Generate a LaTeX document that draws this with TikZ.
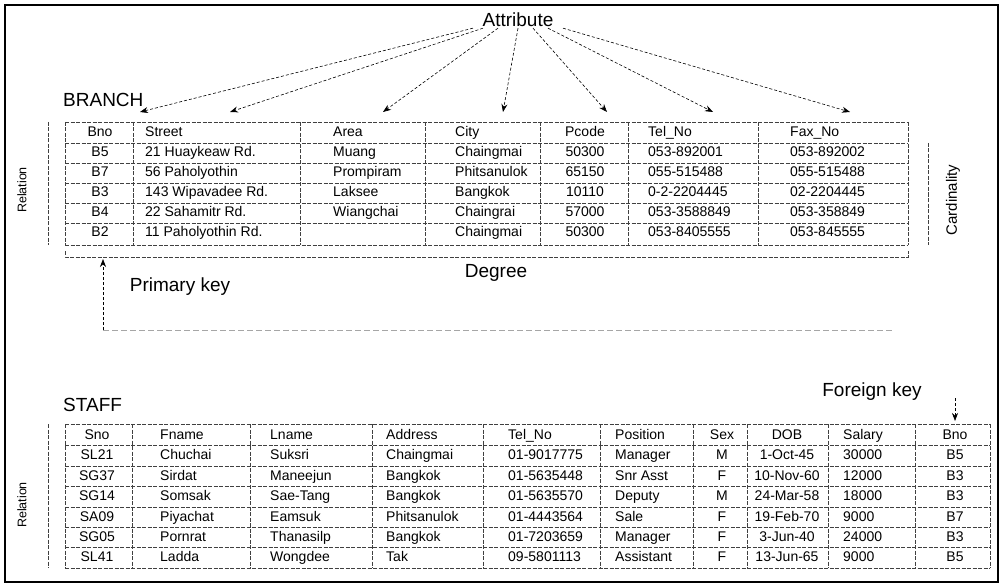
\documentclass[tikz,border=0pt]{standalone}
\usepackage{fontspec}
\setmainfont{Liberation Sans}
\usetikzlibrary{arrows.meta}

\begin{document}
\begin{tikzpicture}[x=1pt,y=-1pt,
        rule/.style={dash pattern=on 4pt off 1.5pt,gray!50!black,line width=0.6pt},
        faint/.style={dash pattern=on 6pt off 3pt,gray!70,line width=0.6pt},
        head/.style={font=\fontsize{19}{22}\selectfont,inner sep=1pt},
        cell/.style={font=\fontsize{14}{16}\selectfont,inner sep=0pt,text height=10pt,text depth=3pt},
        side/.style={font=\fontsize{12.5}{14}\selectfont,rotate=90,inner sep=0pt},
        pointer/.style={densely dashed,line width=0.6pt,->,>={Stealth[length=8pt,width=6pt]}},
        ]
        \useasboundingbox (0,0) rectangle (1003,588);
        \draw[line width=1.5pt] (5,5) rectangle (998,582);
        \node[head] (attr) at (518,20) {Attribute};
        \foreach \x/\s [count=\i] in {140/-45,230/-35,383/-20,503/0,607/15,713/30,850/45} {
            \coordinate (a\i) at (\x,112);
            \draw[pointer] ([xshift=\s]attr.south) -- (a\i);
        }
        \node[head,anchor=west] (branch) at (62,100) {BRANCH};
        \foreach \y in {122,143,163,183,203,223,245}
            \draw[rule] (65,\y) -- (908,\y);
        \foreach \x in {65,133,300,425,540,628,758,908}
            \draw[rule] (\x,122) -- (\x,245);
        \foreach \bno/\street/\area/\city/\pcode/\tel/\fax [count=\r from 0] in {
            Bno/Street/Area/City/Pcode/Tel\_No/Fax\_No,
            B5/21 Huaykeaw Rd./Muang/Chaingmai/50300/053-892001/053-892002,
            B7/56 Paholyothin/Prompiram/Phitsanulok/65150/055-515488/055-515488,
            B3/143 Wipavadee Rd./Laksee/Bangkok/10110/0-2-2204445/02-2204445,
            B4/22 Sahamitr Rd./Wiangchai/Chaingrai/57000/053-3588849/053-358849,
            B2/11 Paholyothin Rd./{}/Chaingmai/50300/053-8405555/053-845555} {
            \node[cell] (b\r-1) at (100,133+20*\r) {\bno};
            \node[cell,anchor=west] (b\r-2) at (145,133+20*\r) {\street};
            \node[cell,anchor=west] (b\r-3) at (333,133+20*\r) {\area};
            \node[cell,anchor=west] (b\r-4) at (455,133+20*\r) {\city};
            \node[cell] (b\r-5) at (585,133+20*\r) {\pcode};
            \node[cell,anchor=west] (b\r-6) at (648,133+20*\r) {\tel};
            \node[cell,anchor=west] (b\r-7) at (790,133+20*\r) {\fax};
        }
        \node[side] (rel1) at (22,190) {Relation};
        \draw[rule] (48,122) -- (48,245);
        \node[side,font=\fontsize{15}{17}\selectfont] (card) at (953,200) {Cardinality};
        \draw[rule] (928,143) -- (928,245);
        \draw[rule] (65,251) -- (65,257) -- (908,257) -- (908,251);
        \node[head] (degree) at (496,273) {Degree};
        \node[head] (pkey) at (180,287) {Primary key};
        \coordinate (pkfoot) at (103,330);
        \coordinate (pktip) at (103,259);
        \draw[pointer] (pkfoot) -- (pktip);
        \draw[faint] (pkfoot) -- (893,330);
        \node[head,anchor=west] (staff) at (62,405) {STAFF};
        \node[head] (fkey) at (872,392) {Foreign key};
        \coordinate (fkfoot) at (955,398);
        \coordinate (fktip) at (955,421);
        \draw[pointer] (fkfoot) -- (fktip);
        \foreach \y in {424,445,466,486,507,527,547,568}
            \draw[rule] (65,\y) -- (990,\y);
        \foreach \x in {65,132,250,372,483,600,693,747,828,915,990}
            \draw[rule] (\x,424) -- (\x,568);
        \foreach \sno/\fname/\lname/\addr/\tel/\pos/\sex/\dob/\sal/\bno [count=\r from 0] in {
            Sno/Fname/Lname/Address/Tel\_No/Position/Sex/DOB/Salary/Bno,
            SL21/Chuchai/Suksri/Chaingmai/01-9017775/Manager/M/1-Oct-45/30000/B5,
            SG37/Sirdat/Maneejun/Bangkok/01-5635448/Snr Asst/F/10-Nov-60/12000/B3,
            SG14/Somsak/Sae-Tang/Bangkok/01-5635570/Deputy/M/24-Mar-58/18000/B3,
            SA09/Piyachat/Eamsuk/Phitsanulok/01-4443564/Sale/F/19-Feb-70/9000/B7,
            SG05/Pornrat/Thanasilp/Bangkok/01-7203659/Manager/F/3-Jun-40/24000/B3,
            SL41/Ladda/Wongdee/Tak/09-5801113/Assistant/F/13-Jun-65/9000/B5} {
            \node[cell] (s\r-1) at (97,436+20.4*\r) {\sno};
            \node[cell,anchor=west] (s\r-2) at (160,436+20.4*\r) {\fname};
            \node[cell,anchor=west] (s\r-3) at (270,436+20.4*\r) {\lname};
            \node[cell,anchor=west] (s\r-4) at (386,436+20.4*\r) {\addr};
            \node[cell,anchor=west] (s\r-5) at (508,436+20.4*\r) {\tel};
            \node[cell,anchor=west] (s\r-6) at (615,436+20.4*\r) {\pos};
            \node[cell] (s\r-7) at (722,436+20.4*\r) {\sex};
            \node[cell] (s\r-8) at (787,436+20.4*\r) {\dob};
            \node[cell,anchor=west] (s\r-9) at (843,436+20.4*\r) {\sal};
            \node[cell] (s\r-10) at (955,436+20.4*\r) {\bno};
        }
        \node[side] (rel2) at (22,505) {Relation};
        \draw[rule] (48,424) -- (48,568);
    \end{tikzpicture}
\end{document}
